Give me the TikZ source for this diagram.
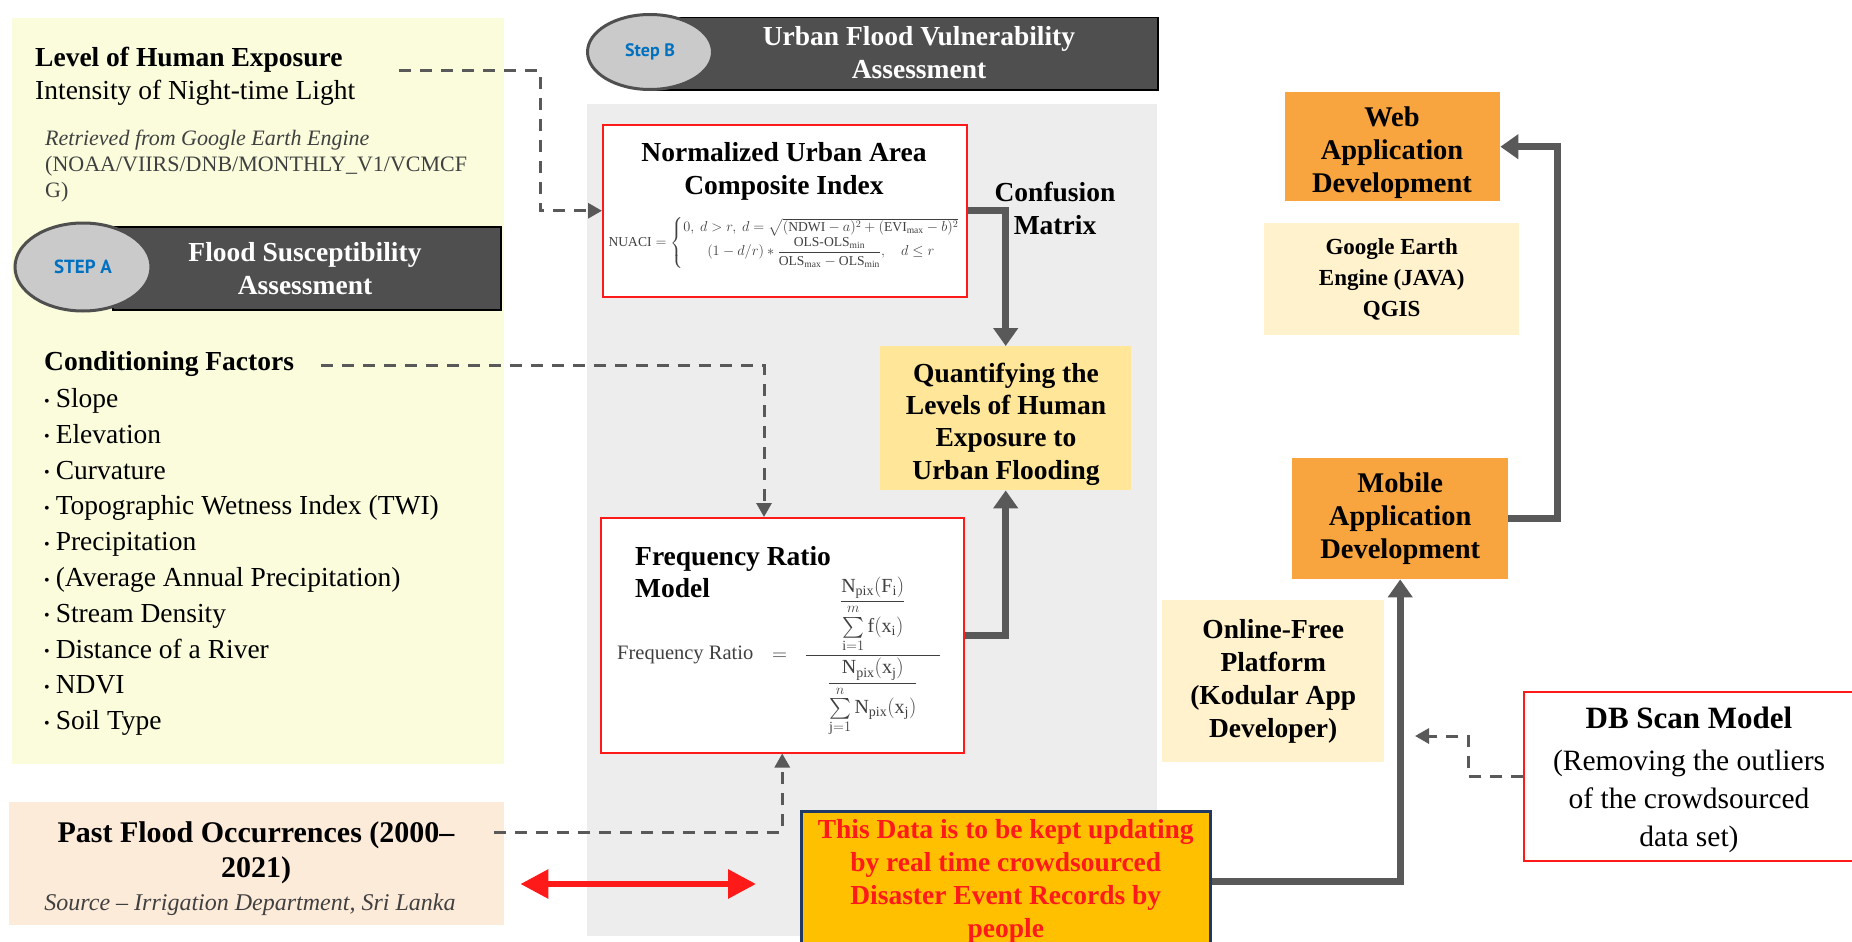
\documentclass[tikz,border=0pt]{standalone}
\usepackage{amsmath}
\usepackage{graphicx}
\usepackage{fontspec}
\setmainfont{Liberation Serif}
\newfontfamily\stepfont{PT Sans}
\usetikzlibrary{arrows.meta,shapes.geometric}
\definecolor{panelY}{HTML}{FAFCDC}
\definecolor{bannerC}{HTML}{4F4F4F}
\definecolor{ellC}{HTML}{CACACA}
\definecolor{stepblue}{HTML}{0070C0}
\definecolor{panelG}{HTML}{EDEDED}
\definecolor{quantC}{HTML}{FFE699}
\definecolor{appC}{HTML}{F9A53F}
\definecolor{toolC}{HTML}{FFF2CC}
\definecolor{peachC}{HTML}{FDEBDA}
\definecolor{orangeC}{HTML}{FFC000}
\definecolor{navyC}{HTML}{1F3864}
\definecolor{lineC}{HTML}{595959}
\definecolor{txtgray}{HTML}{404040}
\definecolor{redC}{HTML}{FF1A1A}
\newcommand\bulletmark{{\fontsize{16}{16}\selectfont\raisebox{1.5pt}{•}}\hspace{6pt}}
\tikzset{
  fnt/.style={inner sep=0pt, font=\fontsize{27.5}{33}\selectfont},
  bfnt/.style={inner sep=0pt, font=\fontsize{27.5}{33}\selectfont\bfseries},
  rect/.style={rectangle, inner sep=0pt, anchor=north west, align=center},
  redbox/.style={rect, draw=redC, line width=1.5pt, fill=white},
  banner/.style={rect, fill=bannerC, draw=black, line width=1.5pt},
  stepell/.style={ellipse, fill=ellC, draw=bannerC, line width=3pt, inner sep=0pt,
     text=stepblue, font=\stepfont\bfseries\fontsize{18}{18}\selectfont},
  thickarrow/.style={draw=lineC, line width=7pt, -{Triangle[length=18pt,width=24pt]}},
  dasharrow/.style={draw=lineC, line width=3pt, dash pattern=on 12pt off 9pt,
     -{Triangle[length=14pt,width=15pt]}},
  redarrow/.style={draw=redC, line width=6pt,
     {Triangle[length=28pt,width=28pt]}-{Triangle[length=28pt,width=28pt]}},
}
\begin{document}
\begin{tikzpicture}[x=1pt,y=-1pt]
\useasboundingbox (0,0) rectangle (1852,942);
\fill[white] (0,0) rectangle (1852,942);

% panels
\node[rect, fill=panelY, minimum width=492pt, minimum height=746pt] (lpanel) at (12,18) {};
\node[rect, fill=panelG, minimum width=570pt, minimum height=832pt] (gpanel) at (587,104) {};

% left panel texts
\node[bfnt, anchor=base west] (lhe) at (35,66.5) {Level of Human Exposure};
\node[fnt, anchor=base west] (ntl) at (35,99.5) {Intensity of Night-time Light};
\node[inner sep=0pt, anchor=west, align=left, text=txtgray, font=\fontsize{22}{26}\selectfont] (gee) at (45,166)
  {{\itshape Retrieved from Google Earth Engine}\\(NOAA/VIIRS/DNB/MONTHLY\_V1/VCMCF\\G)};

% step A
\node[banner, minimum width=388pt, minimum height=83pt] (bannerA) at (112,226) {};
\node[stepell, minimum width=136pt, minimum height=88pt, font=\stepfont\bfseries\fontsize{19}{19}\selectfont] (ellA) at (83,267) {STEP A};
\node[bfnt, text=white, align=center] (titleA) at (305,269) {Flood Susceptibility\\Assessment};

% conditioning factors
\node[bfnt, anchor=base west] (cf) at (44,370.5) {Conditioning Factors};
\foreach \t [count=\i] in {Slope,Elevation,Curvature,{Topographic Wetness Index (TWI)},Precipitation,{(Average Annual Precipitation)},{Stream Density},{Distance of a River},NDVI,{Soil Type}}
  \node[fnt, anchor=base west] (bul\i) at (44,{407.5+35.8*(\i-1)}) {\bulletmark\t};

% step B
\node[banner, minimum width=510pt, minimum height=72pt] (bannerB) at (647,17) {};
\node[stepell, minimum width=125pt, minimum height=75pt] (ellB) at (650,52) {Step B};
\node[bfnt, text=white, align=center] (titleB) at (919,53) {Urban Flood Vulnerability\\Assessment};

% NUACI
\node[redbox, minimum width=364pt, minimum height=172pt] (nuaci) at (602,124) {};
\node[bfnt, align=center] (nuacititle) at (784,171) {Normalized Urban Area\\Composite Index};
\node[inner sep=0pt, text=txtgray, font=\fontsize{13.6}{16}\selectfont] (nuacif) at (784,243)
 {$\mathrm{NUACI}=\left\{\begin{array}{@{}c@{}}
 0,\ d>r,\ d=\sqrt{(\mathrm{NDWI}-a)^2+(\mathrm{EVI}_{\max}-b)^2}\\[1pt]
 (1-d/r)*\dfrac{\mathrm{OLS}\text{-}\mathrm{OLS}_{\min}}{\mathrm{OLS}_{\max}-\mathrm{OLS}_{\min}},\quad d\le r
 \end{array}\right.$};

\node[bfnt, align=center] (conf) at (1055,208) {Confusion\\Matrix};

% quantifying
\node[rect, fill=quantC, minimum width=251pt, minimum height=144pt] (quant) at (880,346) {};
\node[inner sep=0pt, align=center, font=\fontsize{27.5}{32.3}\selectfont\bfseries] (quanttext) at (1006,424)
 {Quantifying the\\Levels of Human\\Exposure to\\Urban Flooding};

% frequency ratio
\node[redbox, minimum width=363pt, minimum height=235pt] (fr) at (600,517) {};
\node[bfnt, anchor=base west] (frtitle) at (635,565.5) {Frequency Ratio};
\node[bfnt, anchor=base west] (frtitle2) at (635,597.5) {Model};
\node[inner sep=0pt, anchor=west, text=txtgray, font=\fontsize{20.5}{24}\selectfont] (frlabel) at (617,655) {Frequency Ratio};
\node[inner sep=0pt, anchor=west, text=txtgray, font=\fontsize{20}{24}\selectfont] (frfrac) at (772,657)
 {$=\hspace{12pt}\dfrac{\hspace{34pt}\dfrac{\mathrm{N}_{\mathrm{pix}}(\mathrm{F}_{\mathrm{i}})}{\sum\limits_{\mathrm{i}=1}^{m} \mathrm{f}(\mathrm{x}_{\mathrm{i}})}\hspace{34pt}}
   {\dfrac{\mathrm{N}_{\mathrm{pix}}(\mathrm{x}_{\mathrm{j}})}{\sum\limits_{\mathrm{j}=1}^{n} \mathrm{N}_{\mathrm{pix}}(\mathrm{x}_{\mathrm{j}})}}$};

% past flood
\node[rect, fill=peachC, minimum width=495pt, minimum height=123pt] (past) at (9,802) {};
\node[inner sep=0pt, align=center, font=\fontsize{30}{35}\selectfont\bfseries] (pasttitle) at (256,853) {Past Flood Occurrences (2000–\\2021)};
\node[inner sep=0pt, text=txtgray, font=\fontsize{24}{28}\selectfont\itshape] (pastsrc) at (250,905) {Source – Irrigation Department, Sri Lanka};

% orange box
\node[rect, fill=orangeC, draw=navyC, line width=2.5pt, minimum width=409pt, minimum height=140pt,
  text=redC, font=\fontsize{27.5}{33}\selectfont\bfseries] (orange) at (800,810)
 {This Data is to be kept updating\\by real time crowdsourced\\Disaster Event Records by\\people};

% right column
\node[rect, fill=appC, minimum width=215pt, minimum height=109pt] (web) at (1285,92) {};
\node[inner sep=0pt, align=center, font=\fontsize{28.5}{33}\selectfont\bfseries] (webtext) at (1392,153) {Web\\Application\\Development};
\node[rect, fill=toolC, minimum width=255pt, minimum height=112pt, font=\fontsize{23}{31}\selectfont\bfseries] (gee2) at (1264,223) {Google Earth\\Engine (JAVA)\\QGIS};
\node[rect, fill=appC, minimum width=216pt, minimum height=121pt, font=\fontsize{28.5}{33}\selectfont\bfseries] (mobile) at (1292,458) {Mobile\\Application\\Development};
\node[rect, fill=toolC, minimum width=222pt, minimum height=162pt, font=\fontsize{27.5}{33}\selectfont\bfseries] (online) at (1162,600) {Online-Free\\Platform\\(Kodular App\\Developer)};

% DB scan
\node[rect, draw=redC, fill=white, line width=1.5pt, minimum width=345pt, minimum height=169pt] (db) at (1523,691) {};
\node[inner sep=0pt, font=\fontsize{31}{38}\selectfont\bfseries] (dbtitle) at (1689,718) {DB Scan Model};
\node[inner sep=0pt, align=center, font=\fontsize{29.5}{38}\selectfont] (dbtext) at (1689,801) {(Removing the outliers\\of the crowdsourced\\data set)};

% coordinates
\coordinate (d1) at (399,71);
\coordinate (d2) at (321,365);
\coordinate (k2) at (764,0);
\coordinate (d3) at (494,832);
\coordinate (d4) at (1415,736);
\coordinate (ry) at (0,884);

% dashed connectors
\draw[dasharrow] (d1) -- ++(141,0) |- (nuaci.west);
\draw[dasharrow] (d2) -| (fr.north -| k2);
\draw[dasharrow] (d3) -| (fr.south);
\draw[dasharrow] (db.west) -- ++(-55,0) |- (d4);

% thick connectors
\draw[thickarrow] (nuaci.east) -| (quant.north);
\draw[thickarrow] (fr.east) -| (quant.south);
\draw[thickarrow] (orange.east) -| (mobile.south);
\draw[thickarrow] (mobile.east) -- ++(49,0) |- (web.east);

% red double arrow
\draw[redarrow, shorten <=16pt, shorten >=44pt] (past.east |- ry) -- (orange.west |- ry);
\end{tikzpicture}
\end{document}
